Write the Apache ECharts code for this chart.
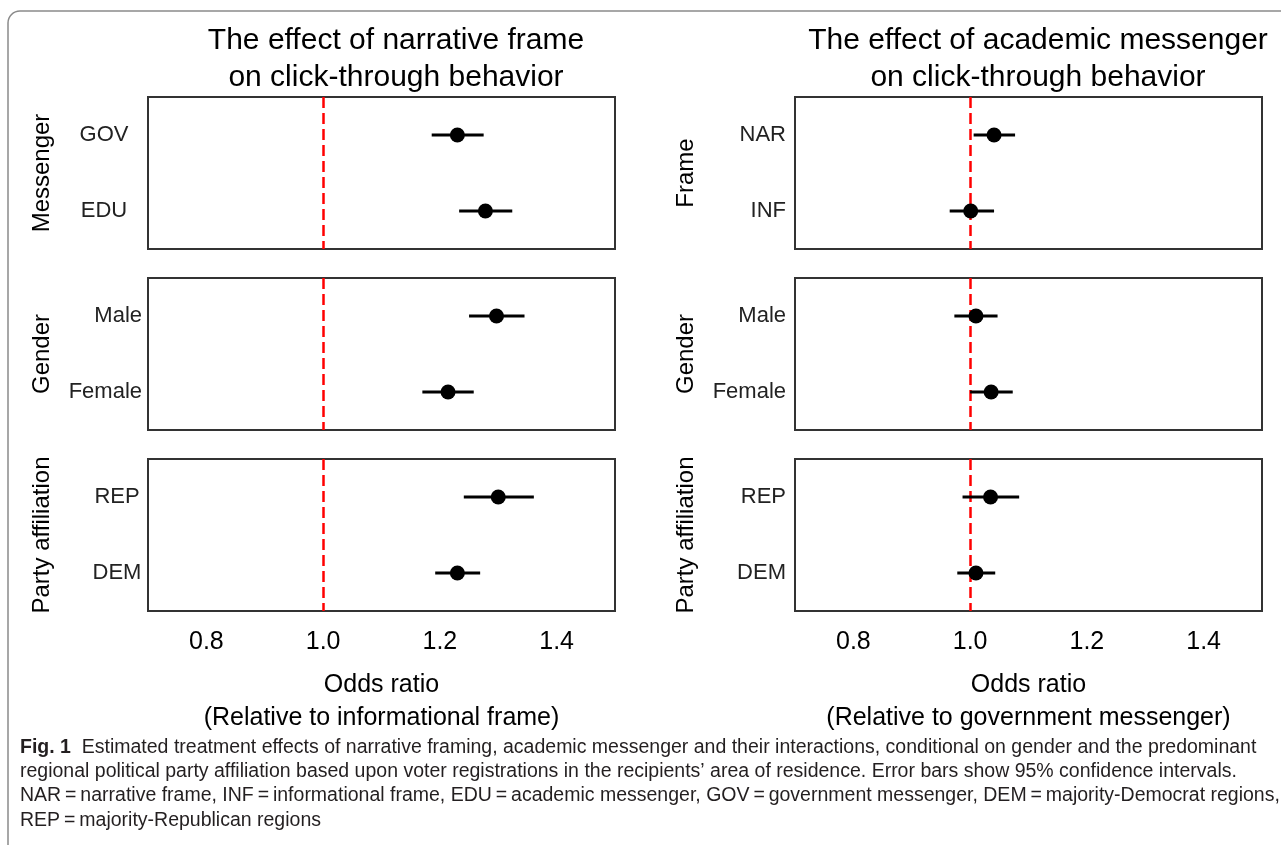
<!DOCTYPE html>
<html>
<head>
<meta charset="utf-8">
<script src="https://cdn.jsdelivr.net/npm/echarts@6/dist/echarts.min.js"></script>
<style>
html,body{margin:0;padding:0;background:#fff;}
#chart{width:1281px;height:845px;}
</style>
</head>
<body>
<div id="chart"></div>
<script>
// ---- Titles / labels ----
const leftTitle = ['The effect of narrative frame', 'on click-through behavior'];
const rightTitle = ['The effect of academic messenger', 'on click-through behavior'];
const leftXName = 'Odds ratio\n(Relative to informational frame)';
const rightXName = 'Odds ratio\n(Relative to government messenger)';
const xTickLabels = ['0.8', '1.0', '1.2', '1.4'];
const xMin = 0.7, xMax = 1.5, xStep = 0.1;
const refValue = 1.0;

// ---- Categories ----
const messengerCats = ['GOV', 'EDU'];
const frameCats = ['NAR', 'INF'];
const genderCats = ['Male', 'Female'];
const partyCats = ['REP', 'DEM'];

// ---- Left: effect of narrative frame (odds ratio, 95% CI) ----
const nfMessengerOR = [1.230, 1.278];
const nfMessengerLo = [1.186, 1.233];
const nfMessengerHi = [1.275, 1.324];
const nfGenderOR = [1.297, 1.214];
const nfGenderLo = [1.250, 1.170];
const nfGenderHi = [1.345, 1.258];
const nfPartyOR = [1.300, 1.230];
const nfPartyLo = [1.241, 1.192];
const nfPartyHi = [1.361, 1.269];

// ---- Right: effect of academic messenger (odds ratio, 95% CI) ----
const amFrameOR = [1.041, 1.001];
const amFrameLo = [1.006, 0.965];
const amFrameHi = [1.077, 1.041];
const amGenderOR = [1.010, 1.036];
const amGenderLo = [0.973, 1.000];
const amGenderHi = [1.047, 1.073];
const amPartyOR = [1.035, 1.010];
const amPartyLo = [0.987, 0.978];
const amPartyHi = [1.084, 1.043];

const caption = [
  '{b|Fig. 1}  Estimated treatment effects of narrative framing, academic messenger and their interactions, conditional on gender and the predominant',
  'regional political party affiliation based upon voter registrations in the recipients’ area of residence. Error bars show 95% confidence intervals.',
  'NAR\u2009=\u2009narrative frame, INF\u2009=\u2009informational frame, EDU\u2009=\u2009academic messenger, GOV\u2009=\u2009government messenger, DEM\u2009=\u2009majority-Democrat regions,',
  'REP\u2009=\u2009majority-Republican regions'
];

// ---- Layout ----
const FONT = 'Liberation Sans, Arial, Helvetica, sans-serif';
const colLeft = [148, 795];
const colWidth = 467;
const rowTop = [97, 278, 459];
const rowHeight = 152;

const panels = [
  {col: 0, row: 0, name: 'Messenger', cats: messengerCats, or: nfMessengerOR, lo: nfMessengerLo, hi: nfMessengerHi, lblAlign: 'center', lblMargin: 44, xName: leftXName},
  {col: 0, row: 1, name: 'Gender', cats: genderCats, or: nfGenderOR, lo: nfGenderLo, hi: nfGenderHi, lblAlign: 'right', lblMargin: 6, xName: leftXName},
  {col: 0, row: 2, name: 'Party affiliation', cats: partyCats, or: nfPartyOR, lo: nfPartyLo, hi: nfPartyHi, lblAlign: 'center', lblMargin: 31, xName: leftXName},
  {col: 1, row: 0, name: 'Frame', cats: frameCats, or: amFrameOR, lo: amFrameLo, hi: amFrameHi, lblAlign: 'right', lblMargin: 9, xName: rightXName},
  {col: 1, row: 1, name: 'Gender', cats: genderCats, or: amGenderOR, lo: amGenderLo, hi: amGenderHi, lblAlign: 'right', lblMargin: 9, xName: rightXName},
  {col: 1, row: 2, name: 'Party affiliation', cats: partyCats, or: amPartyOR, lo: amPartyLo, hi: amPartyHi, lblAlign: 'right', lblMargin: 9, xName: rightXName}
];

const grids = [], xAxes = [], yAxes = [], series = [];
panels.forEach((p, i) => {
  const bottomRow = p.row === 2;
  grids.push({
    left: colLeft[p.col], top: rowTop[p.row], width: colWidth, height: rowHeight,
    show: true, borderColor: '#333', borderWidth: 2, backgroundColor: 'transparent'
  });
  xAxes.push({
    type: 'value', gridIndex: i, min: xMin, max: xMax, interval: xStep,
    axisLine: {show: false}, axisTick: {show: false}, splitLine: {show: false},
    axisLabel: {
      show: bottomRow, margin: 19, color: '#000', fontSize: 25, fontFamily: FONT,
      hideOverlap: false,
      formatter: v => { const s = v.toFixed(1); return xTickLabels.indexOf(s) >= 0 ? s : ''; }
    },
    name: bottomRow ? p.xName : '', nameLocation: 'middle', nameGap: 58,
    nameTextStyle: {color: '#000', fontSize: 25, fontFamily: FONT, lineHeight: 33}
  });
  yAxes.push({
    type: 'category', gridIndex: i, data: p.cats, inverse: true,
    axisLine: {show: false}, axisTick: {show: false}, splitLine: {show: false},
    axisLabel: {color: '#222', fontSize: 22, fontFamily: FONT, margin: p.lblMargin, align: p.lblAlign},
    name: p.name, nameLocation: 'middle', nameRotate: 90, nameGap: p.col === 0 ? 94 : 97,
    nameTextStyle: {color: '#000', fontSize: 24, fontFamily: FONT}
  });
  series.push({
    type: 'custom', xAxisIndex: i, yAxisIndex: i, z: 3, silent: true,
    data: p.cats.map((c, k) => [p.lo[k], p.hi[k], k]),
    encode: {x: [0, 1], y: 2},
    renderItem: (params, api) => {
      const a = api.coord([api.value(0), api.value(2)]);
      const b = api.coord([api.value(1), api.value(2)]);
      return {type: 'line', shape: {x1: a[0], y1: a[1], x2: b[0], y2: b[1]},
              style: {stroke: '#000', lineWidth: 3}};
    }
  });
  series.push({
    type: 'scatter', xAxisIndex: i, yAxisIndex: i, z: 4, silent: true,
    symbol: 'circle', symbolSize: 15, itemStyle: {color: '#000', opacity: 1},
    data: p.cats.map((c, k) => [p.or[k], k]),
    markLine: {
      silent: true, z: 1, symbol: ['none', 'none'], label: {show: false},
      lineStyle: {color: '#ff0000', type: [11, 5], width: 2.5, opacity: 1},
      data: [{xAxis: refValue}]
    }
  });
});

const titleStyle = {fill: '#000', fontSize: 30, fontFamily: FONT, align: 'center', verticalAlign: 'middle'};
const graphics = [
  {type: 'rect', z: -10, shape: {x: 8, y: 11, width: 1400, height: 1000, r: 12},
   style: {fill: 'none', stroke: '#8a8a8a', lineWidth: 1.5}},
  {type: 'text', x: 396, y: 41, style: Object.assign({text: leftTitle[0]}, titleStyle)},
  {type: 'text', x: 396, y: 78, style: Object.assign({text: leftTitle[1]}, titleStyle)},
  {type: 'text', x: 1038, y: 41, style: Object.assign({text: rightTitle[0]}, titleStyle)},
  {type: 'text', x: 1038, y: 78, style: Object.assign({text: rightTitle[1]}, titleStyle)}
];
const capY = [748, 772, 796, 821];
caption.forEach((line, k) => {
  graphics.push({
    type: 'text', x: 20, y: capY[k],
    style: {
      text: line, fill: '#231f20', fontSize: 19.5, fontFamily: FONT, align: 'left', verticalAlign: 'middle',
      rich: {b: {fontWeight: 'bold', fontSize: 19.5, fontFamily: FONT, fill: '#231f20'}}
    }
  });
});

const chart = echarts.init(document.getElementById('chart'), null, {renderer: 'canvas'});
chart.setOption({
  animation: false,
  backgroundColor: '#fff',
  grid: grids,
  xAxis: xAxes,
  yAxis: yAxes,
  series: series,
  graphic: graphics
});
</script>
</body>
</html>
